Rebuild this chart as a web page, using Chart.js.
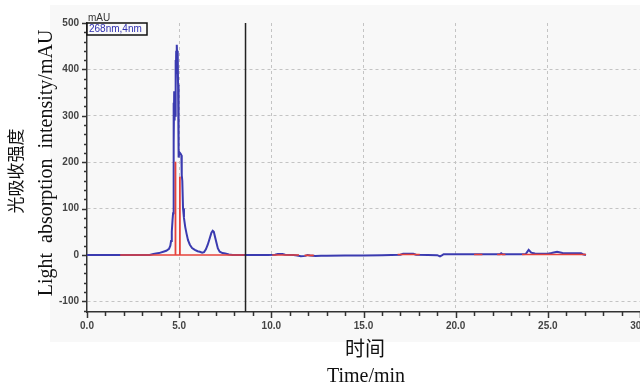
<!DOCTYPE html>
<html lang="zh">
<head>
    <meta charset="UTF-8">
    <title>HPLC</title>
    <style>
        html, body { margin: 0; padding: 0; background: #fff; overflow: hidden; }
        #wrap { width: 680px; height: 385px; }
    </style>
</head>
<body>
    <div id="wrap">
        <canvas id="myChart"></canvas>
    </div>

    <script src="https://cdn.jsdelivr.net/npm/chart.js"></script>

    <script>
        // retention time (min) and absorbance (mAU), 268 nm trace
        const times = [0, 1, 1.8, 2.6, 3.4, 3.6, 3.9, 4.14, 4.3, 4.45, 4.52, 4.56, 4.60, 4.64, 4.67, 4.69,
            4.70, 4.715, 4.73, 4.745, 4.76, 4.78, 4.80, 4.82, 4.84, 4.86, 4.88, 4.90, 4.92, 4.94, 4.96,
            4.98, 5.00, 5.04, 5.08, 5.12, 5.14, 5.17, 5.21, 5.26, 5.33, 5.40, 5.48, 5.58, 5.70, 5.85,
            6.0, 6.12, 6.25, 6.35, 6.45, 6.55, 6.65, 6.75, 6.82, 6.88, 6.95, 7.03, 7.10, 7.2, 7.35,
            7.5, 7.7, 7.9, 9.0, 9.8, 10.2, 10.35, 10.6, 10.75, 11.2, 11.4, 11.6, 11.85, 11.97, 12.1,
            12.4, 12.7, 13.0, 14, 15, 16, 17.0, 17.15, 17.7, 17.85, 18.5, 19.0, 19.15, 19.25, 19.35,
            20, 21, 22, 22.4, 22.47, 22.55, 23.5, 23.8, 23.96, 24.1, 24.3, 24.6, 25, 25.2, 25.5,
            25.8, 26.0, 26.5, 26.8, 26.9, 27.07];
        const absorbance = [0, 0, 0, 0, 0, 2, 4, 7, 9, 13, 20, 30, 50, 75, 90, 200,
            328, 240, 353, 290, 340, 300, 420, 360, 440, 390, 453, 420, 440, 367, 300,
            210, 218, 220, 218, 215, 172, 160, 100, 80, 60, 46, 32, 22, 15, 11,
            8, 7, 5, 6, 12, 22, 35, 48, 52, 50, 38, 25, 14, 7, 4,
            3, 1, 0, 0, 0, 0.5, 2, 2, 0.5, 0, -1, -3, -2, 0, -1,
            -2.5, -2, -1.5, -1, -1, -0.5, 0.5, 2.5, 2.5, 0.5, 0, -0.5, -3, -1, 1.5,
            1.5, 1.5, 1.5, 1.5, 3.5, 1.5, 1.5, 2, 11, 5, 3, 2.5, 2.5, 4, 7,
            4, 3.5, 3.5, 3.5, 1.5, 0];

        // integration baselines (red)
        const baseStart = [1.8, 10.05, 11.8, 16.85, 21.0, 22.25, 23.6];
        const baseEnd   = [8.55, 11.5, 12.3, 18.05, 21.45, 22.7, 27.07];
        const baseLevel = [0, 0, -1, 1, 1, 1, 1];

        // peak drop lines (red)
        const dropTimes   = [4.80, 5.04];
        const dropHeights = [201, 169];

        // time marker (black)
        const markerTime = 8.6;

        const xTicks = [0, 5, 10, 15, 20, 25, 30];
        const yTicks = [-100, 0, 100, 200, 300, 400, 500];
        const yMin = -123, yMax = 500;

        const blueData = times.map((t, i) => ({ x: t, y: absorbance[i] }));
        const baseData = [];
        baseStart.forEach((s, i) => {
            baseData.push({ x: s, y: baseLevel[i] }, { x: baseEnd[i], y: baseLevel[i] }, { x: baseEnd[i] + 0.001, y: null });
        });

        const red = '#e5413b';
        const datasets = [
            { data: blueData, borderColor: '#3b3bb0', borderWidth: 2, order: 2 },
            { data: baseData, borderColor: red, borderWidth: 1.6, order: 1 },
            { data: [{ x: markerTime, y: yMin }, { x: markerTime, y: yMax }], borderColor: '#222', borderWidth: 1.5, order: 0 }
        ];
        dropTimes.forEach((t, i) => {
            datasets.push({ data: [{ x: t, y: 0 }, { x: t, y: dropHeights[i] }], borderColor: red, borderWidth: 1.8, order: 1 });
        });

        // panel, minor ticks, titles and the channel label
        const decor = {
            id: 'decor',
            beforeDraw(chart) {
                const { ctx, chartArea: a } = chart;
                ctx.save();
                ctx.fillStyle = '#fff';
                ctx.fillRect(0, 0, chart.width, chart.height);
                ctx.fillStyle = '#f8f8f8';
                ctx.fillRect(a.left - 37, a.top - 18, a.right - a.left + 37, a.bottom - a.top + 48);
                ctx.restore();
            },
            afterDraw(chart) {
                const { ctx, chartArea: a } = chart;
                const xs = chart.scales.x, ys = chart.scales.y;
                ctx.save();
                ctx.strokeStyle = '#333';
                ctx.lineWidth = 1.5;
                ctx.beginPath();
                for (let v = 0; v <= 30; v += 1) {
                    const px = Math.round(xs.getPixelForValue(v)) + 0.5;
                    const len = v % 5 === 0 ? 6 : 4;
                    ctx.moveTo(px, a.bottom);
                    ctx.lineTo(px, a.bottom + len);
                }
                for (let v = -120; v <= 500; v += 20) {
                    const py = Math.round(ys.getPixelForValue(v)) + 0.5;
                    const len = v % 100 === 0 ? 5 : 3;
                    ctx.moveTo(a.left, py);
                    ctx.lineTo(a.left - len, py);
                }
                ctx.stroke();

                // channel label
                ctx.font = '10px "Liberation Sans"';
                ctx.fillStyle = '#333';
                ctx.textAlign = 'left';
                ctx.textBaseline = 'alphabetic';
                ctx.fillText('mAU', a.left + 1, a.top - 2);
                ctx.fillStyle = '#fafafa';
                ctx.fillRect(a.left, a.top, 60, 12);
                ctx.strokeStyle = '#111';
                ctx.lineWidth = 1.5;
                ctx.strokeRect(a.left, a.top, 60, 12);
                ctx.fillStyle = '#2f2fb0';
                ctx.textBaseline = 'middle';
                ctx.fillText('268nm,4nm', a.left + 2, a.top + 6.5);

                // axis titles
                ctx.fillStyle = '#111';
                ctx.textAlign = 'center';
                ctx.font = '20px "Liberation Serif", "Noto Sans CJK SC"';
                ctx.fillText('时间', 365, 351);
                ctx.fillText('Time/min', 366, 377);
                ctx.save();
                ctx.translate(18, 171);
                ctx.rotate(-Math.PI / 2);
                ctx.font = '17px "Liberation Serif", "Noto Sans CJK SC"';
                ctx.fillText('光吸收强度', 0, 0);
                ctx.restore();
                ctx.save();
                ctx.translate(47, 163);
                ctx.rotate(-Math.PI / 2);
                ctx.font = '20px "Liberation Serif"';
                ctx.fillText('Light  absorption  intensity/mAU', 0, 0);
                ctx.restore();
                ctx.restore();
            }
        };

        const gridCol = '#c4c4c4';
        const tickFont = { family: 'Liberation Sans', size: 10, weight: 'bold' };
        new Chart(document.getElementById('myChart'), {
            type: 'line',
            data: { datasets: datasets },
            options: {
                responsive: true,
                maintainAspectRatio: false,
                animation: false,
                layout: { padding: { left: 0, right: 40, top: 23, bottom: 0 } },
                elements: { point: { radius: 0 }, line: { tension: 0 } },
                plugins: { legend: { display: false }, tooltip: { enabled: false } },
                scales: {
                    x: {
                        type: 'linear',
                        min: 0,
                        max: 30,
                        afterBuildTicks: s => { s.ticks = xTicks.map(v => ({ value: v })); },
                        afterFit: s => { s.height = 73; },
                        grid: {
                            drawTicks: false,
                            lineWidth: 1,
                            color: c => (c.tick && (c.tick.value === 0 || c.tick.value === 30)) ? 'transparent' : gridCol
                        },
                        border: { display: true, color: '#333', width: 1.5, dash: [3, 3] },
                        ticks: {
                            padding: 8,
                            color: '#444',
                            font: tickFont,
                            maxRotation: 0,
                            callback: v => Number(v).toFixed(1)
                        }
                    },
                    y: {
                        min: yMin,
                        max: yMax,
                        afterBuildTicks: s => { s.ticks = yTicks.map(v => ({ value: v })); },
                        afterFit: s => { s.width = 87; },
                        grid: {
                            drawTicks: false,
                            lineWidth: 1,
                            color: c => (c.tick && (c.tick.value === 500 || c.tick.value === 0)) ? 'transparent' : gridCol
                        },
                        border: { display: true, color: '#333', width: 1.5, dash: [3, 3] },
                        ticks: {
                            padding: 8,
                            color: '#444',
                            font: tickFont
                        }
                    }
                }
            },
            plugins: [decor]
        });
    </script>
</body>
</html>
